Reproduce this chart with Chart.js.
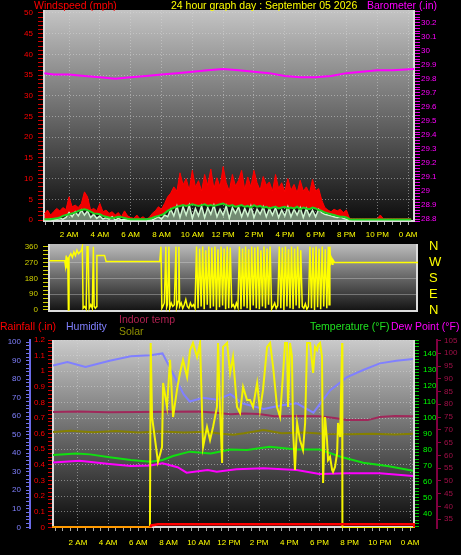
<!DOCTYPE html>
<html><head><meta charset="utf-8">
<script src="https://cdn.jsdelivr.net/npm/chart.js@4.4.1/dist/chart.umd.min.js"></script>
<style>
html,body{margin:0;padding:0;background:#000;width:461px;height:555px;overflow:hidden;}
.c{position:absolute;left:0;width:461px;}
.t{position:absolute;font-family:"Liberation Sans",Arial,sans-serif;font-size:10.5px;line-height:11px;white-space:nowrap;z-index:5;}
</style></head><body>
<div class="c" style="top:0;height:244px"><canvas id="c1"></canvas></div>
<div class="c" style="top:234px;height:88px"><canvas id="c2"></canvas></div>
<div class="c" style="top:330px;height:225px"><canvas id="c3"></canvas></div>
<div class="t" style="left:34px;top:0;color:#ff0000">Windspeed (mph)</div>
<div class="t" style="left:171px;top:0;color:#ffff00">24 hour graph day : September 05 2026</div>
<div class="t" style="left:367px;top:0;color:#ff00ff">Barometer (.in)</div>
<div class="t" style="left:0;top:321px;color:#ff0000">Rainfall (.in)</div>
<div class="t" style="left:66px;top:321px;color:#8080ff">Humidity</div>
<div class="t" style="left:119px;top:314px;color:#b02050">Indoor temp</div>
<div class="t" style="left:119px;top:326px;color:#909000">Solar</div>
<div class="t" style="left:310px;top:321px;color:#20e020">Temperature (°F)</div>
<div class="t" style="left:391px;top:321px;color:#ff00ff">Dew Point (°F)</div>
<script>
// ---------------- DATA ----------------
const hourTicks  = [2, 4, 6, 8, 10, 12, 14, 16, 18, 20, 22, 24];
const hourLabels = ['2 AM','4 AM','6 AM','8 AM','10 AM','12 PM','2 PM','4 PM','6 PM','8 PM','10 PM','0 AM'];

// wind readings every 0.2 h starting 0.4 h
const windStartHour = 0.4, windStepHour = 0.2;
const windGust = [
 1.5,2.4,1.2,2.0,2.8,2.2,3.0,2.5,5.6,3.2,
 3.6,3.0,4.0,6.8,5.6,2.4,2.8,2.2,4.0,2.0,
 2.4,1.6,2.0,1.2,1.8,0.8,2.2,1.0,0.6,0.4,
 1.2,0.3,0.8,0.2,0.6,1.6,2.2,3.2,2.6,4.0,
 5.6,6.5,8.0,7.0,11.4,8.5,10.0,7.2,12.0,8.0,
 9.5,7.0,11.0,8.4,12.3,7.6,10.2,8.0,12.9,9.0,
 7.0,11.0,8.2,9.6,12.0,7.4,10.4,8.0,12.0,9.0,
 7.2,10.5,8.4,9.2,7.0,11.0,7.6,9.0,6.8,10.0,
 7.2,8.6,6.6,9.6,7.0,8.0,6.4,9.8,7.0,7.6,
 4.8,3.0,2.4,2.0,2.6,2.2,2.6,1.8,2.4,0.4,
 0.3,0.3,0.3,0.3,0.3,0.3,0.3,0.3,0.3,1.2,
 0.3,0.3,0.3,0.3,0.3,0.3,0.3,0.3,0.3,0.3];
const windAvg = [
 0.2,0.2,0.2,0.3,0.4,0.6,1.0,1.2,1.4,1.6,
 1.8,2.2,2.4,2.6,2.4,2.0,1.6,1.5,1.4,1.0,
 0.8,0.6,0.5,0.6,0.8,0.7,0.5,0.3,0.2,0.2,
 0.2,0.2,0.2,0.2,0.3,0.5,0.8,1.0,1.2,1.6,
 2.2,2.6,3.0,3.2,3.4,3.6,3.4,3.6,3.8,3.6,
 3.4,3.6,3.8,3.4,3.6,3.4,3.6,3.8,4.0,3.6,
 3.4,3.6,3.2,3.4,3.6,3.2,3.4,3.0,3.6,3.2,
 3.4,3.0,3.2,2.8,3.0,3.2,2.8,3.0,3.2,2.8,
 3.0,2.8,3.2,2.6,3.0,2.8,2.6,3.0,2.8,2.4,
 2.2,1.8,1.6,1.4,1.2,1.0,0.8,0.8,0.6,0.2,
 0.1,0.1,0.1,0.1,0.1,0.1,0.1,0.1,0.1,0.1,
 0.1,0.1,0.1,0.1,0.1,0.1,0.1,0.1,0.1,0.1];
const windSpeed = [
 0,0,0.2,0,0.2,0.4,0.2,0.6,1.8,0.8,
 2.0,1.0,2.4,1.2,2.2,0.6,1.4,0.4,1.0,0.2,
 0.6,0.2,0.8,0,0.4,0,0.2,0,0,0,
 0,0,0,0,0,0,0.4,0.8,0.2,1.2,
 0.8,2.6,1.0,3.4,0.6,3.2,1.2,3.6,0.4,2.8,
 1.0,3.4,0.6,3.0,1.4,3.6,0.8,2.6,1.2,3.4,
 0.4,3.0,1.6,3.2,0.8,2.8,1.0,3.4,0.6,2.6,
 1.4,3.2,0.8,2.8,1.2,3.0,0.6,2.4,1.0,3.2,
 0.8,2.6,1.2,3.0,0.6,2.8,1.0,2.4,0.8,2.6,
 1.8,1.4,1.2,1.0,0.8,0.6,0.8,0.4,0.2,0,
 0,0,0,0,0,0,0,0,0,0,
 0,0,0,0,0,0,0,0,0,0];

const baroHours = [0.4,1,2,3,4,5,6,7,8,9,10,11,12,13,14,15,16,17,18,19,20,21,22,23,24.4];
const baroIn    = [29.84,29.83,29.83,29.82,29.81,29.80,29.81,29.82,29.83,29.84,29.85,29.86,29.87,29.86,29.85,29.84,29.82,29.81,29.81,29.82,29.84,29.85,29.86,29.86,29.87];

const dirHours = [
 0.4,1.4,1.45,1.5,1.55,1.6,1.64,1.68,1.8,1.9,
 2.0,2.1,2.2,2.3,2.4,2.5,2.55,2.6,2.7,2.8,
 2.86,2.92,3.0,3.1,3.2,3.27,3.32,3.4,3.48,3.5,
 4.0,4.1,7.6,7.68,7.74,
 7.8,7.9,8.0,8.05,8.1,8.2,8.25,8.35,8.45,8.55,
 8.66,8.7,8.8,8.85,8.9,9.0,9.1,9.2,9.3,9.4,
 9.5,9.6,9.7,9.8,9.9,
 10.0,10.1,10.2,10.3,10.4,10.5,10.6,10.7,10.8,10.9,
 11.0,11.1,11.2,11.3,11.4,11.5,11.6,11.7,11.8,11.9,
 12.0,12.1,12.2,12.3,12.4,12.5,12.6,12.7,12.8,12.9,
 13.0,13.1,13.2,13.3,13.4,13.5,13.6,13.7,13.8,13.9,
 14.0,14.1,14.2,14.3,14.4,14.5,14.6,14.7,14.8,14.9,
 15.0,15.1,15.2,15.3,15.4,15.5,15.6,15.7,15.8,15.9,
 16.0,16.1,16.2,16.3,16.4,16.5,16.6,16.7,16.8,16.9,
 17.0,17.1,17.2,17.3,17.4,17.5,17.6,17.7,17.8,17.9,
 18.0,18.1,18.2,18.3,18.4,18.5,18.6,18.65,
 18.7,18.75,18.8,18.85,18.9,19.0,24.45];
const dirDeg = [
 280,280,250,310,240,300,0,300,320,300,
 330,310,340,320,330,340,360,10,20,5,
 360,360,10,30,10,360,20,10,20,310,
 310,275,275,360,10,
 20,40,360,15,30,360,10,40,20,30,
 360,15,50,360,20,40,10,30,60,20,
 10,40,20,30,10,
 360,10,350,20,360,5,340,30,360,10,
 355,20,360,0,345,15,360,25,350,5,
 360,10,355,20,30,10,40,15,360,5,
 350,20,360,10,345,0,360,25,355,10,
 360,5,340,20,360,10,350,30,360,5,
 20,40,10,25,360,10,355,0,360,20,
 345,10,360,5,350,25,360,10,340,20,
 10,35,5,20,360,10,355,0,360,15,
 350,5,360,20,345,10,360,30,
 360,270,290,260,285,270,270];
const compassDeg    = [0, 90, 180, 270, 360];
const compassLabels = ['N','E','S','W','N'];

const rainHours = [0.28,6.8,6.85,7.3,24.25,24.3];
const rainIn    = [0,0,0.012,0.02,0.02,0];

const humHours = [0.35,1.3,2.5,4.1,5.5,6.8,7.6,8.3,9.0,9.4,10.3,11.2,12.1,12.9,14.3,15.5,16.5,17.6,18.7,19.8,20.9,22.0,23.1,24.2];
const humPct   = [87.5,89.3,86.6,90,92.4,93,94,83,72,68,70,69,72,67,64,66,67,62,74,81,85,88.6,90,91];

const tempHours = [0.35,1.9,2.8,4.1,5.5,6.8,7.6,8.3,9.4,10.8,12.1,13.2,14.7,16.5,18.0,19.4,20.9,22.5,24.2];
const tempF     = [76.6,77.6,77.0,75.2,73.5,72.4,73.5,76.0,78.7,77.6,80.1,79.7,81.8,80.1,80.1,75.5,71.8,69.7,66.8];

const dewHours = [0.35,2.1,4.1,5.5,6.8,7.6,8.6,9.2,10.6,11.2,12.5,14.3,16.5,18.0,19.8,22.0,24.2];
const dewF     = [72.0,73.0,71.0,69.7,70.0,71.4,69.0,65.6,67.2,66.2,67.7,68.3,67.2,64.7,65.2,65.2,63.5];

const indoorHours = [0.35,2,4,6,8,10,11,12.1,13,14,15,16.5,18,19,19.8,21.2,22,23,24.2];
const indoorF     = [77.0,77.2,76.9,77.0,77.1,77.2,76.8,76.1,76.4,76.2,75.3,75.4,75.3,74.6,73.8,73.8,75.0,75.4,75.3];

const oliveHours = [0.35,1.5,3,4.5,6,7.5,9,10.5,11.5,12.3,13,14.3,15.5,17,18.5,20,21.5,23,24.2];
const olivePct   = [51.5,52.2,51.4,52.0,51.3,51.8,51.2,51.6,50.6,50.0,50.8,52.6,50.8,51.2,50.4,50.3,50.6,50.2,50.5];

const sunHours = [
 0.28,6.77,6.82,6.91,7.11,7.30,7.57,7.64,7.90,8.10,
 8.30,8.56,8.76,8.96,9.23,9.43,9.62,9.89,10.09,10.29,
 10.55,10.75,10.95,11.21,11.28,11.41,11.55,11.61,11.88,12.08,
 12.27,12.54,12.74,12.94,13.2,13.4,13.6,13.87,14.06,14.26,
 14.53,14.73,14.93,15.19,15.39,15.59,15.72,15.85,15.92,16.05,
 16.18,16.25,16.38,16.52,16.71,16.91,17.05,17.18,17.38,17.58,
 17.71,17.84,17.91,18.04,18.17,18.24,18.37,18.5,18.57,18.7,
 18.84,18.9,19.03,19.17,19.23,19.37,19.5,19.52,24.33];
const sunPct = [
 0,0,99.4,59.6,47.3,35.5,43.5,77.9,65.0,90.3,
 59.6,74.2,83.3,90.3,81.1,95.6,99.4,91.9,99.4,43.5,
 54.3,47.3,54.3,65.0,99.4,65.0,34.9,97.3,99.4,83.3,
 91.9,65.0,61.8,75.8,68.8,68.8,65.0,77.9,63.4,74.2,
 97.3,99.4,86.5,65.0,59.6,83.3,99.4,99.4,65.0,99.4,
 91.9,52.7,31.2,56.4,47.3,41.9,56.4,99.4,99.4,83.3,
 97.3,95.6,98.3,99.4,91.9,24.2,59.6,47.3,36.5,38.2,
 31.2,30.1,32.8,40.3,56.4,48.9,99.4,0,0];

// ---------------- HELPERS ----------------
const FONT = "'Liberation Sans', Arial, sans-serif";
const GRID = 'rgba(215,215,215,0.5)';
const NONE = 'rgba(0,0,0,0)';
const windHours = windGust.map((_, i) => +(windStartHour + windStepHour * i).toFixed(2));
const pts = (xs, ys) => xs.map((x, i) => ({x, y: ys[i]}));
const hourLabel = v => { const i = hourTicks.indexOf(v); return i < 0 ? '' : hourLabels[i]; };
const f8 = {family: FONT, size: 8};

const plotBg = {
  id: 'plotBg',
  beforeDraw(chart, args, o) {
    const {ctx, chartArea: a} = chart;
    const g = ctx.createLinearGradient(0, a.top, 0, a.bottom);
    g.addColorStop(0, o.top); g.addColorStop(1, o.bottom);
    ctx.save(); ctx.fillStyle = g;
    ctx.fillRect(a.left, a.top, a.right - a.left, a.bottom - a.top);
    ctx.restore();
  },
  beforeDatasetsDraw(chart) {
    const {ctx, chartArea: a} = chart;
    ctx.save(); ctx.strokeStyle = '#dcdcdc'; ctx.lineWidth = 2;
    ctx.beginPath();
    ctx.moveTo(a.left + 1, a.top); ctx.lineTo(a.left + 1, a.bottom - 1);
    ctx.lineTo(a.right - 1, a.bottom - 1); ctx.lineTo(a.right - 1, a.top);
    ctx.stroke(); ctx.restore();
  }
};
Chart.register(plotBg);

const base = {
  responsive: true, maintainAspectRatio: false, animation: false, devicePixelRatio: 1, events: [],
  elements: {point: {radius: 0}, line: {tension: 0}},
};
const xAxis = (min, max, h, pad) => ({
  type: 'linear', min, max, afterFit: s => { s.height = h; },
  ticks: {stepSize: 0.5, autoSkip: false, maxRotation: 0, includeBounds: false, color: '#ffff00', font: f8, padding: pad, callback: hourLabel},
  grid: {color: c => (c.tick && hourTicks.includes(c.tick.value)) ? GRID : NONE, tickColor: '#a8a8a8', tickLength: 3},
  border: {display: false, dash: [1, 2]}
});

// ---------------- CHART 1 : wind + barometer ----------------
new Chart(document.getElementById('c1'), {
  type: 'line',
  data: {datasets: [
    {label: 'Barometer', data: pts(baroHours, baroIn), yAxisID: 'yBaro', borderColor: '#ff00ff', borderWidth: 2},
    {label: 'Average wind', data: pts(windHours, windAvg), yAxisID: 'yWind', borderColor: '#20d020', borderWidth: 2},
    {label: 'Wind speed', data: pts(windHours, windSpeed), yAxisID: 'yWind', borderColor: '#d0f4d0', borderWidth: 1.5,
      fill: 'origin', backgroundColor: 'rgba(195,240,195,0.55)'},
    {label: 'Gust', data: pts(windHours, windGust), yAxisID: 'yWind', borderColor: '#ff0000', borderWidth: 1, fill: 1, backgroundColor: '#f00000'}
  ]},
  options: Object.assign({}, base, {
    layout: {padding: {top: 10}},
    plugins: {legend: {display: false}, tooltip: {enabled: false}, plotBg: {top: '#c4c4c4', bottom: '#0c0c0c'}},
    scales: {
      x: xAxis(0.31, 24.45, 22, 5),
      yWind: {position: 'left', min: -0.48, max: 50.72, afterFit: s => { s.width = 43; },
        ticks: {stepSize: 1, autoSkip: false, includeBounds: false, color: '#ff0000', font: f8, padding: 5, callback: v => v % 5 === 0 ? String(v) : ''},
        grid: {color: c => (c.tick && c.tick.value % 5 === 0 && c.tick.value > 0) ? GRID : NONE, tickColor: '#d00000', tickLength: 5},
        border: {display: false, dash: [1, 2]}},
      yBaro: {position: 'right', min: 28.779, max: 30.29, afterFit: s => { s.width = 46; },
        ticks: {stepSize: 0.02, autoSkip: false, includeBounds: false, color: '#ff00ff', font: f8, padding: 1,
          callback: v => Math.round(v * 50) % 5 === 0 ? String(Math.round(v * 10) / 10) : ''},
        grid: {drawOnChartArea: false, tickColor: '#e000e0', tickLength: 5},
        border: {display: false}}
    }
  })
});

// ---------------- CHART 2 : wind direction ----------------
new Chart(document.getElementById('c2'), {
  type: 'line',
  data: {datasets: [
    {label: 'Direction', data: pts(dirHours, dirDeg), yAxisID: 'yDir', borderColor: '#ffff00', borderWidth: 1.5}
  ]},
  options: Object.assign({}, base, {
    layout: {padding: {top: 10, bottom: 10}},
    plugins: {legend: {display: false}, tooltip: {enabled: false}, plotBg: {top: '#bcbcbc', bottom: '#101010'}},
    scales: {
      x: {type: 'linear', min: 0.31, max: 24.45, display: false},
      yDir: {position: 'left', min: -11.4, max: 375, afterFit: s => { s.width = 48; },
        ticks: {stepSize: 22.5, autoSkip: false, includeBounds: false, color: '#d0d000', font: f8, padding: 5,
          callback: v => Math.round(v) % 90 === 0 ? String(Math.round(v)) : ''},
        grid: {color: c => (c.tick && Math.round(c.tick.value) % 90 === 0 && c.tick.value > 0 && c.tick.value < 360) ? 'rgba(225,225,225,0.35)' : NONE,
          tickColor: '#d0d000', tickLength: 5},
        border: {display: false}},
      yCompass: {position: 'right', min: -11.4, max: 375, afterFit: s => { s.width = 43; },
        ticks: {stepSize: 90, autoSkip: false, includeBounds: false, color: '#ffff00', font: {family: FONT, size: 13}, padding: 0,
          callback: v => { const i = compassDeg.indexOf(v); return i < 0 ? '' : compassLabels[i]; }},
        grid: {drawOnChartArea: false, drawTicks: true, tickLength: 11, tickColor: NONE},
        border: {display: false}}
    }
  })
});

// ---------------- CHART 3 : rain / humidity / temps / solar ----------------
new Chart(document.getElementById('c3'), {
  type: 'line',
  data: {datasets: [
    {label: 'Rainfall', data: pts(rainHours, rainIn), yAxisID: 'yRain', borderColor: '#ff0000', borderWidth: 2.5,
      segment: {borderColor: c => c.p1.parsed.x <= 6.8 ? '#ff9a00' : undefined}},
    {label: 'Solar radiation', data: pts(sunHours, sunPct), yAxisID: 'ySun', borderColor: '#f4f400', borderWidth: 2},
    {label: 'Humidity', data: pts(humHours, humPct), yAxisID: 'yHum', borderColor: '#8080ff', borderWidth: 2},
    {label: 'Dew Point', data: pts(dewHours, dewF), yAxisID: 'yTemp', borderColor: '#ff00ff', borderWidth: 2},
    {label: 'Temperature', data: pts(tempHours, tempF), yAxisID: 'yTemp', borderColor: '#10e010', borderWidth: 2},
    {label: 'Indoor temp', data: pts(indoorHours, indoorF), yAxisID: 'yIn', borderColor: '#a0285a', borderWidth: 2},
    {label: 'Solar', data: pts(oliveHours, olivePct), yAxisID: 'yHum', borderColor: '#858000', borderWidth: 2}
  ]},
  options: Object.assign({}, base, {
    layout: {padding: {top: 10}},
    plugins: {legend: {display: false}, tooltip: {enabled: false}, plotBg: {top: '#cacaca', bottom: '#0a0a0a'}},
    scales: {
      x: xAxis(0.28, 24.33, 27, 7),
      yRain: {position: 'left', weight: 0, min: -0.0045, max: 1.2, afterFit: s => { s.width = 22; },
        ticks: {stepSize: 0.025, autoSkip: false, includeBounds: false, color: '#ff0000', font: f8, padding: 3,
          callback: v => Math.round(v * 40) % 4 === 0 ? String(Math.round(v * 10) / 10) : ''},
        grid: {color: c => (c.tick && Math.round(c.tick.value * 40) % 4 === 0 && c.tick.value > 0.05) ? GRID : NONE, tickColor: '#d00000', tickLength: 4},
        border: {display: false, dash: [1, 2]}},
      yHum: {position: 'left', weight: 1, min: -0.38, max: 101.24, afterFit: s => { s.width = 30; },
        ticks: {stepSize: 2, autoSkip: false, includeBounds: false, color: '#8080ff', font: f8, padding: 5,
          callback: v => v % 10 === 0 ? String(v) : ''},
        grid: {drawOnChartArea: false, tickColor: '#7070e8', tickLength: 4},
        border: {display: true, color: '#6a6ae8', width: 2}},
      yTemp: {position: 'right', weight: 0, min: 31.1, max: 148.3, afterFit: s => { s.width = 22; },
        ticks: {stepSize: 2, autoSkip: false, includeBounds: false, color: '#00ff00', font: f8, padding: 4,
          callback: v => v % 10 === 0 ? String(v) : ''},
        grid: {drawOnChartArea: false, tickColor: '#00c000', tickLength: 4},
        border: {display: false}},
      yIn: {position: 'right', weight: 1, min: 31.5, max: 105.2, afterFit: s => { s.width = 24; },
        ticks: {stepSize: 5, autoSkip: false, includeBounds: false, color: '#a01048', font: f8, padding: 3},
        grid: {drawOnChartArea: false, tickColor: '#900040', tickLength: 4},
        border: {display: true, color: '#800040', width: 2}},
      ySun: {display: false, min: 0, max: 101}
    }
  })
});
</script>
</body></html>
